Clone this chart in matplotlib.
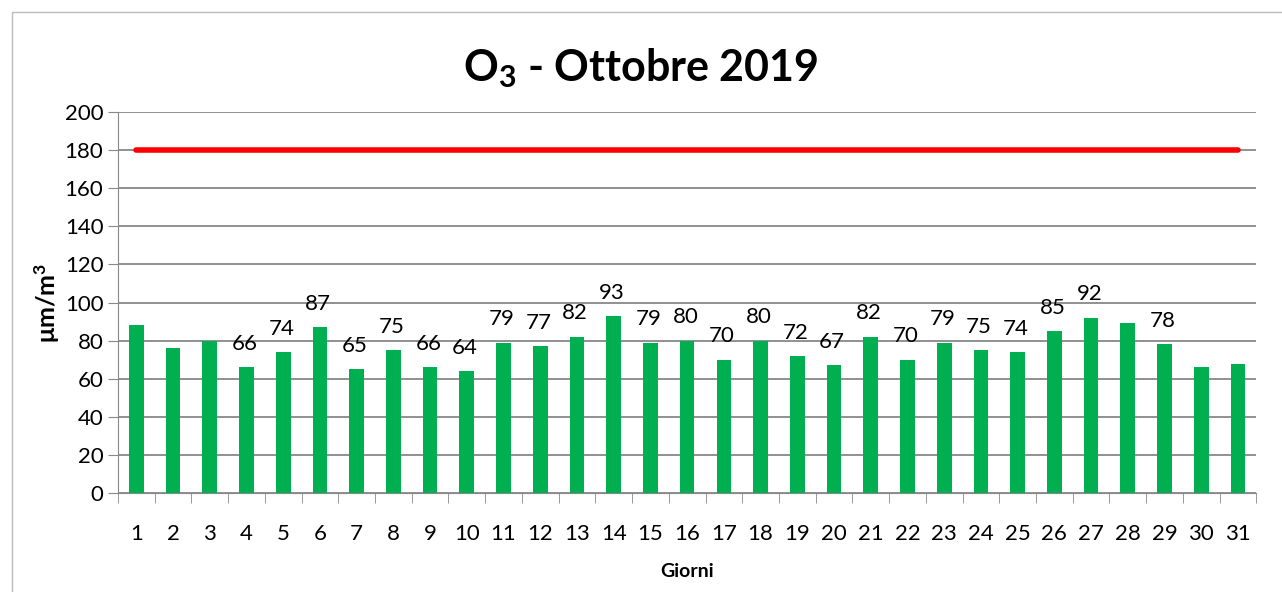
import matplotlib.pyplot as plt
import numpy as np
from matplotlib.patches import Rectangle

plt.rcParams['font.family'] = ['Lato', 'DejaVu Sans']
plt.rcParams['mathtext.fontset'] = 'custom'
plt.rcParams['mathtext.rm'] = 'Lato'
plt.rcParams['mathtext.bf'] = 'Lato:bold'

# daily O3 values, October 2019
days = list(range(1, 32))
values = [88, 76, 80, 66, 74, 87, 65, 75, 66, 64, 79, 77, 82, 93, 79, 80,
          70, 80, 72, 67, 82, 70, 79, 75, 74, 85, 92, 89, 78, 66, 68]
# which bars carry a data label in the original
labelled = [False, False, False] + [True] * 24 + [False, True, False, False]
limit = 180

fig = plt.figure(figsize=(12.82, 5.92), dpi=100)
ax = fig.add_axes([0.092, 0.167, 0.888, 0.644])

x = np.arange(len(days))
ax.bar(x, values, width=0.4, color='#00b050', zorder=3)
ax.plot(x, [limit] * len(days), color='#ff0000', lw=4, solid_capstyle='round', zorder=4)

for xi, v, lab in zip(x, values, labelled):
    if lab:
        ax.text(xi - 0.05, v + 7, str(v), ha='center', va='bottom', fontsize=16, zorder=5)

ax.set_xlim(-0.5, len(days) - 0.5)
ax.set_ylim(0, 200)
ax.set_yticks(range(0, 201, 20))
ax.set_xticks(x)
ax.set_xticklabels([str(d) for d in days])
ax.set_xticks(np.arange(-0.5, len(days), 1), minor=True)
ax.tick_params(axis='x', which='major', length=0, pad=22, labelsize=16)
ax.tick_params(axis='x', which='minor', length=7, color='#888888')
ax.tick_params(axis='y', length=7, color='#888888', labelsize=16)
ax.grid(axis='y', color='#888888', lw=1.3, zorder=0)

for s in ['top', 'right']:
    ax.spines[s].set_visible(False)
ax.spines['left'].set_color('#888888')
ax.spines['bottom'].set_color('#888888')

ax.set_ylabel(r'$\mathbf{\mu m/m^3}$', fontsize=18, labelpad=2)
ax.set_xlabel('Giorni', fontsize=14, fontweight='bold', labelpad=14)
fig.text(0.5, 0.885, r'$\mathbf{O_3}$ - Ottobre 2019', ha='center', va='center',
         fontsize=31, fontweight='bold')

fig.patches.append(Rectangle((0.009, -0.01), 0.995, 0.99, transform=fig.transFigure,
                             fill=False, edgecolor='#bbbbbb', lw=1))

fig.savefig('out.png', dpi=100)
